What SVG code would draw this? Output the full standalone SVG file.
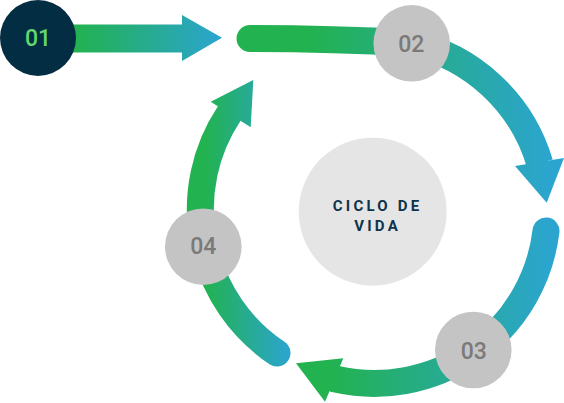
<svg xmlns="http://www.w3.org/2000/svg" width="564" height="403" viewBox="0 0 564 403">
  <defs>
    <linearGradient id="gArrow1" gradientUnits="userSpaceOnUse" x1="75" y1="0" x2="222" y2="0">
      <stop offset="0" stop-color="#22B250"/>
      <stop offset="1" stop-color="#2BA5D0"/>
    </linearGradient>
    <linearGradient id="gA" gradientUnits="userSpaceOnUse" x1="310" y1="0" x2="552" y2="0">
      <stop offset="0" stop-color="#22B250"/>
      <stop offset="1" stop-color="#2BA5D0"/>
    </linearGradient>
    <linearGradient id="gB" gradientUnits="userSpaceOnUse" x1="330" y1="0" x2="552" y2="0">
      <stop offset="0" stop-color="#22B250"/>
      <stop offset="1" stop-color="#2BA5D0"/>
    </linearGradient>
    <linearGradient id="gC" gradientUnits="userSpaceOnUse" x1="205" y1="0" x2="290" y2="0">
      <stop offset="0" stop-color="#22B250"/>
      <stop offset="1" stop-color="#2BA5D0"/>
    </linearGradient>
  </defs>
  <style>
    .band { fill: none; stroke-width: 27; }
    .num { font-family: Roboto, "Liberation Sans", sans-serif; font-size: 23px; font-weight: 500; text-anchor: middle; }
    .step { fill: #C4C4C4; }
    .stepText { fill: #7A7A7A; }
    .title { font-family: Roboto, "Liberation Sans", sans-serif; font-size: 15px; font-weight: bold; letter-spacing: 3.2px; fill: #0E3349; text-anchor: middle; }
  </style>

  <g id="connectors">
    <g id="arrow-01-02">
      <rect x="60" y="24.5" width="124" height="28" fill="url(#gArrow1)"/>
      <polygon points="182,15 222,37.8 182,61" fill="url(#gArrow1)"/>
    </g>
    <g id="arc-02-03">
      <path class="band" d="M250,38.5 Q330,38.5 414,43" stroke="url(#gA)" stroke-linecap="round"/>
      <path class="band" d="M410,43 A173 173 0 0 1 539.7,163.3" stroke="url(#gA)"/>
      <polygon points="515,166 546.7,202.7 564,158" fill="url(#gA)"/>
    </g>
    <g id="arc-03-04">
      <path class="band" d="M546,231 A173 173 0 0 1 336,379.2" stroke="url(#gB)" stroke-linecap="round"/>
      <polygon points="343.3,358.3 296,363.3 325,401.7" fill="url(#gB)"/>
    </g>
    <g id="arc-04-02">
      <path class="band" d="M277,353 A173 173 0 0 1 229,113.9" stroke="url(#gC)" stroke-linecap="round"/>
      <polygon points="210.7,101.7 253.3,80 250.7,127.3" fill="url(#gC)"/>
    </g>
  </g>

  <g id="node-01">
    <circle cx="38" cy="38" r="38" fill="#032D42"/>
    <text class="num" x="38" y="46" fill="#63D66E" font-size="22">01</text>
  </g>
  <g id="node-02">
    <circle class="step" cx="411.7" cy="43.3" r="38.3"/>
    <text class="num stepText" x="411.3" y="52.3">02</text>
  </g>
  <g id="node-03">
    <circle class="step" cx="473.3" cy="350" r="38.3"/>
    <text class="num stepText" x="473.8" y="359.3">03</text>
  </g>
  <g id="node-04">
    <circle class="step" cx="203.3" cy="246.7" r="38.3"/>
    <text class="num stepText" x="203.3" y="254.3">04</text>
  </g>
  <g id="node-center">
    <circle cx="372.7" cy="211.7" r="74" fill="#E5E5E5"/>
    <text class="title" x="377.6" y="210.7">CICLO DE</text>
    <text class="title" x="377.6" y="230.7">VIDA</text>
  </g>
</svg>
